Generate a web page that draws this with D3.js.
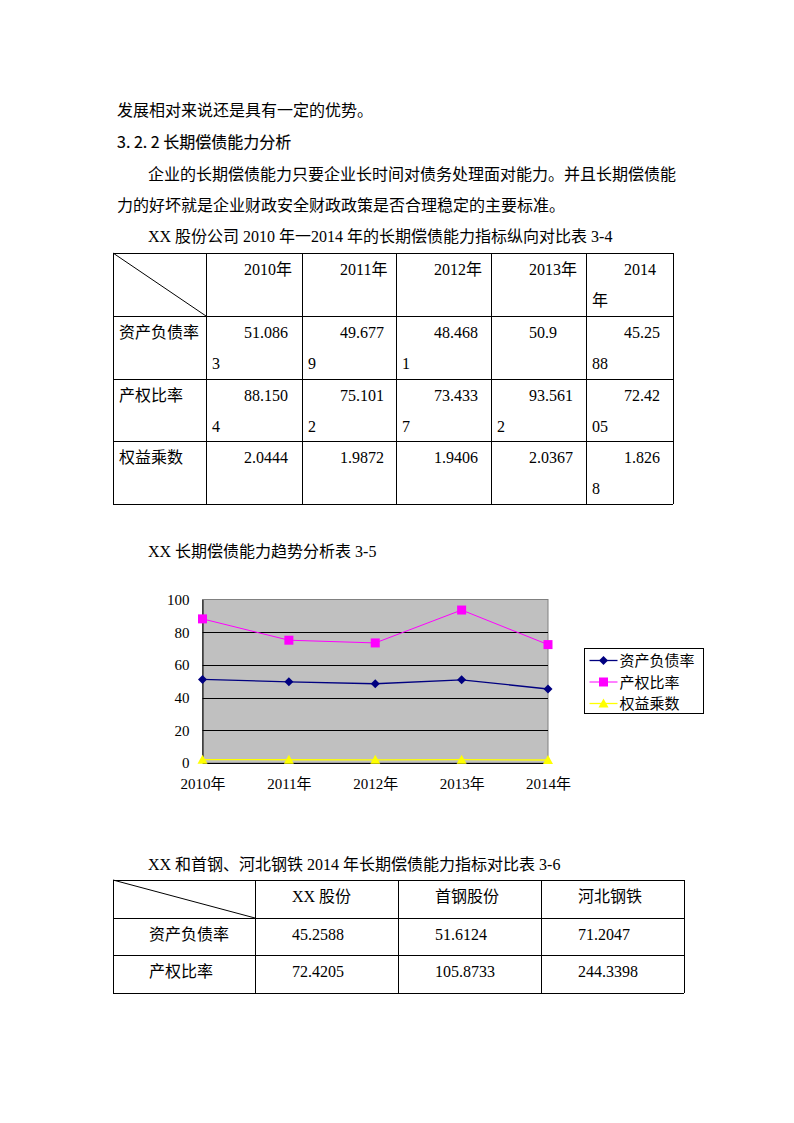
<!DOCTYPE html>
<html><head><meta charset="utf-8">
<script src="https://cdn.jsdelivr.net/npm/d3@7"></script>
<style>body{margin:0;background:#fff} svg{display:block}</style>
</head><body>
<script>
// ---------- data ----------
const years = ["2010年","2011年","2012年","2013年","2014年"];
const indicators = ["资产负债率","产权比率","权益乘数"];
const debtRatio = [51.0863, 49.6779, 48.4681, 50.9, 45.2588];
const equityRatio = [88.1504, 75.1012, 73.4337, 93.5612, 72.4205];
const equityMultiplier = [2.0444, 1.9872, 1.9406, 2.0367, 1.8268];
const yTicks = [0, 20, 40, 60, 80, 100];
const companies = ["XX 股份","首钢股份","河北钢铁"];
const compDebt = ["45.2588","51.6124","71.2047"];
const compEquity = ["72.4205","105.8733","244.3398"];
const seriesColors = ["#000080","#FF00FF","#FFFF00"];

const SERIF = '"Liberation Serif","Noto Sans CJK SC",serif';
const SANS = '"Noto Sans CJK SC",sans-serif';

const W = 794, H = 1123;
const svg = d3.select("body").append("svg").attr("width", W).attr("height", H)
  .style("background", "#fff");

function txt(x, y, s, opts = {}) {
  return svg.append("text").attr("x", x).attr("y", y).text(s)
    .style("font-family", opts.font || SERIF)
    .style("font-size", (opts.size || 16) + "px")
    .attr("text-anchor", opts.anchor || "start")
    .attr("fill", "#000");
}

// ---------- body text ----------
txt(117, 116, "发展相对来说还是具有一定的优势。");
txt(117, 148, "3. 2. 2 长期偿债能力分析", {font: SANS}).attr("stroke", "#000").attr("stroke-width", 0.15);
txt(148, 180, "企业的长期偿债能力只要企业长时间对债务处理面对能力。并且长期偿债能");
txt(117, 211, "力的好坏就是企业财政安全财政政策是否合理稳定的主要标准。");
txt(148, 242, "XX 股份公司 2010 年一2014 年的长期偿债能力指标纵向对比表 3-4");

// ---------- measurement / wrapping ----------
const meas = svg.append("text").style("font-family", SERIF).style("font-size", "16px")
  .attr("visibility", "hidden");
function width(s) { meas.text(s); return meas.node().getComputedTextLength(); }
function wrap(s, firstW, restW) {
  const lines = []; let cur = ""; let lim = firstW;
  for (const ch of s) {
    if (cur.length && width(cur + ch) > lim) { lines.push(cur); cur = ch; lim = restW; }
    else cur += ch;
  }
  if (cur) lines.push(cur);
  return lines;
}

// ---------- table 3-4 ----------
const t1Cols = [113, 206, 302, 396, 491, 586, 673];
const t1Rows = [253, 316, 379, 441, 504];
const g1 = svg.append("g").attr("stroke", "#000").attr("stroke-width", 1);
t1Cols.forEach(c => g1.append("line").attr("x1", c + .5).attr("x2", c + .5).attr("y1", t1Rows[0]).attr("y2", t1Rows[4]));
t1Rows.forEach(r => g1.append("line").attr("x1", t1Cols[0]).attr("x2", t1Cols[6]).attr("y1", r + .5).attr("y2", r + .5));
g1.append("line").attr("x1", t1Cols[0]).attr("y1", t1Rows[0]).attr("x2", t1Cols[1]).attr("y2", t1Rows[1]);

function cellText(colL, colR, rowT, s, indent) {
  const cw = colR - colL;
  const lines = wrap(s, cw - 14.4 - indent, cw - 14.4);
  lines.forEach((l, i) => txt(colL + 6 + (i === 0 ? indent : 0), rowT + 22 + i * 31, l));
}
years.forEach((y, i) => cellText(t1Cols[i + 1], t1Cols[i + 2], t1Rows[0], y, 32));
const t1Data = [debtRatio, equityRatio, equityMultiplier];
indicators.forEach((name, r) => {
  txt(t1Cols[0] + 6, t1Rows[r + 1] + 22, name);
  t1Data[r].forEach((v, i) => cellText(t1Cols[i + 1], t1Cols[i + 2], t1Rows[r + 1], String(v), 32));
});

// ---------- chart 3-5 ----------
txt(148, 557, "XX 长期偿债能力趋势分析表 3-5");
const plot = {l: 202.5, r: 548, t: 599.5, b: 763};
const x = d3.scalePoint().domain(years).range([plot.l, plot.r]).padding(0);
const y = d3.scaleLinear().domain([0, 100]).range([plot.b, plot.t]);
const cg = svg.append("g");
cg.append("rect").attr("x", plot.l).attr("y", plot.t).attr("width", plot.r - plot.l).attr("height", plot.b - plot.t)
  .attr("fill", "#C0C0C0").attr("stroke", "#808080").attr("stroke-width", 1);
cg.selectAll("line.grid").data(yTicks.filter(t => t > 0 && t < 100)).join("line")
  .attr("x1", plot.l).attr("x2", plot.r).attr("y1", d => Math.round(y(d)) + .5).attr("y2", d => Math.round(y(d)) + .5)
  .attr("stroke", "#000").attr("stroke-width", 1);
// axes
const yAxis = d3.axisLeft(y).tickValues(yTicks).tickSize(0).tickPadding(13);
const ya = cg.append("g").attr("transform", `translate(${plot.l},0)`).call(yAxis);
ya.select(".domain").attr("stroke", "#000");
ya.selectAll("text").style("font-family", SERIF).style("font-size", "15px").attr("fill", "#000");
const xAxis = d3.axisBottom(x).tickSize(0).tickPadding(15);
const xa = cg.append("g").attr("transform", `translate(0,${plot.b})`).call(xAxis);
xa.select(".domain").attr("stroke", "#000");
xa.selectAll("text").style("font-family", SERIF).style("font-size", "15px").attr("fill", "#000");

const series = [
  {name: indicators[0], values: debtRatio, color: seriesColors[0], shape: "diamond", w: 1.3},
  {name: indicators[1], values: equityRatio, color: seriesColors[1], shape: "square", w: 1},
  {name: indicators[2], values: equityMultiplier, color: seriesColors[2], shape: "triangle", w: 1.3}
];
function marker(shape) {
  if (shape === "diamond") return "M0,-4.5L4.5,0L0,4.5L-4.5,0Z";
  if (shape === "square") return "M-4.5,-4.5H4.5V4.5H-4.5Z";
  return "M0,-5L5,4L-5,4Z";
}
const line = d3.line().x((d, i) => x(years[i])).y(d => y(d));
series.forEach(s => {
  cg.append("path").attr("d", line(s.values)).attr("fill", "none").attr("stroke", s.color).attr("stroke-width", s.w);
  cg.selectAll(null).data(s.values).join("path")
    .attr("transform", (d, i) => `translate(${x(years[i])},${y(d)})`)
    .attr("d", marker(s.shape)).attr("fill", s.color);
});

// legend
const lg = svg.append("g").attr("transform", "translate(584.5,648.5)");
lg.append("rect").attr("width", 119).attr("height", 65).attr("fill", "#fff").attr("stroke", "#000");
series.forEach((s, i) => {
  const cy = 12 + i * 21.5;
  lg.append("line").attr("x1", 5).attr("x2", 33).attr("y1", cy).attr("y2", cy).attr("stroke", s.color).attr("stroke-width", s.w);
  lg.append("path").attr("transform", `translate(19,${cy})`).attr("d", marker(s.shape)).attr("fill", s.color);
  lg.append("text").attr("x", 35).attr("y", cy + 5.5).text(s.name)
    .style("font-family", SANS).style("font-size", "15px").attr("fill", "#000");
});

// ---------- table 3-6 ----------
txt(148, 870, "XX 和首钢、河北钢铁 2014 年长期偿债能力指标对比表 3-6");
const t2Cols = [113, 255, 398, 541, 684];
const t2Rows = [880, 918, 955, 993];
const g2 = svg.append("g").attr("stroke", "#000").attr("stroke-width", 1);
t2Cols.forEach(c => g2.append("line").attr("x1", c + .5).attr("x2", c + .5).attr("y1", t2Rows[0]).attr("y2", t2Rows[3]));
t2Rows.forEach(r => g2.append("line").attr("x1", t2Cols[0]).attr("x2", t2Cols[4]).attr("y1", r + .5).attr("y2", r + .5));
g2.append("line").attr("x1", t2Cols[0]).attr("y1", t2Rows[0]).attr("x2", t2Cols[1]).attr("y2", t2Rows[1]);
companies.forEach((c, i) => txt(t2Cols[i + 1] + 37, t2Rows[0] + 22, c));
const t2Data = [compDebt, compEquity];
[indicators[0], indicators[1]].forEach((name, r) => {
  txt(t2Cols[0] + 36, t2Rows[r + 1] + 22, name);
  t2Data[r].forEach((v, i) => txt(t2Cols[i + 1] + 37, t2Rows[r + 1] + 22, v));
});
meas.remove();
</script>
</body></html>
